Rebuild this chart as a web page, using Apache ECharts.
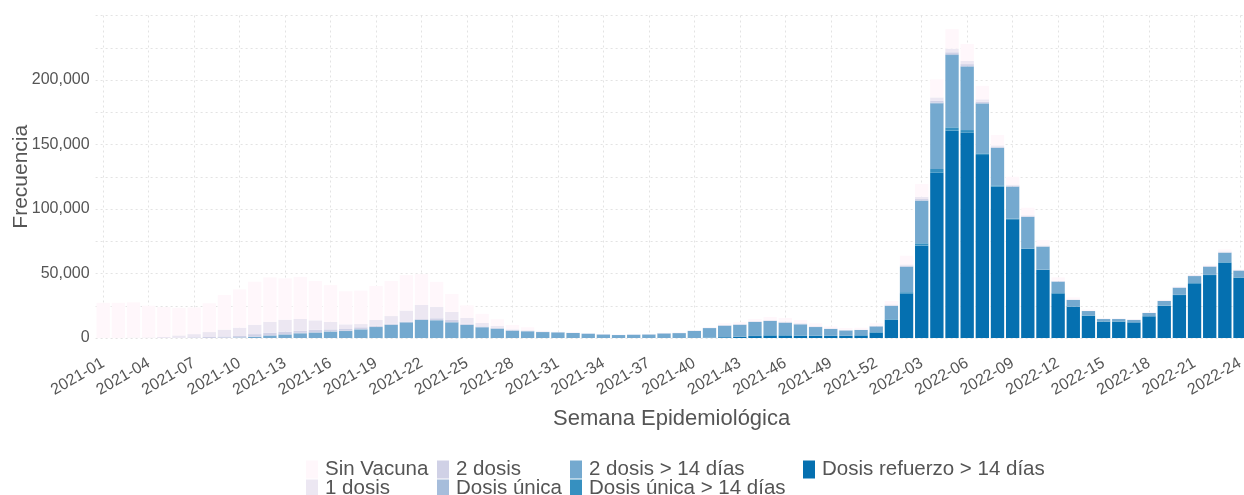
<!DOCTYPE html>
<html>
<head>
<meta charset="utf-8">
<script src="https://cdn.jsdelivr.net/npm/echarts@6/dist/echarts.min.js"></script>
<style>
html,body{margin:0;padding:0;background:#fff;}
#chart{width:1244px;height:495px;}
</style>
</head>
<body>
<div id="chart"></div>
<script>
const weeks = [
 '2021-01','2021-02','2021-03','2021-04','2021-05','2021-06','2021-07','2021-08','2021-09','2021-10',
 '2021-11','2021-12','2021-13','2021-14','2021-15','2021-16','2021-17','2021-18','2021-19','2021-20',
 '2021-21','2021-22','2021-23','2021-24','2021-25','2021-26','2021-27','2021-28','2021-29','2021-30',
 '2021-31','2021-32','2021-33','2021-34','2021-35','2021-36','2021-37','2021-38','2021-39','2021-40',
 '2021-41','2021-42','2021-43','2021-44','2021-45','2021-46','2021-47','2021-48','2021-49','2021-50',
 '2021-51','2021-52','2022-01','2022-02','2022-03','2022-04','2022-05','2022-06','2022-07','2022-08',
 '2022-09','2022-10','2022-11','2022-12','2022-13','2022-14','2022-15','2022-16','2022-17','2022-18',
 '2022-19','2022-20','2022-21','2022-22','2022-23','2022-24'
];

const refuerzo14 = [
 0,0,0,0,0,0,0,0,0,0,
 0,0,0,0,0,0,0,0,0,0,
 0,0,0,0,0,0,0,0,0,0,
 0,0,0,0,0,0,0,0,0,0,
 300,600,1000,1500,2000,2000,1800,1800,1600,1600,
 2000,4300,14000,34600,71600,128100,160700,159100,141800,117500,
 92000,69000,52700,34600,24300,17300,12700,12700,12100,16800,
 25000,33300,42400,48800,58600,46800
];
const unica14 = [
 0,0,0,0,0,0,0,0,0,0,
 0,0,0,0,0,0,0,0,0,0,
 0,0,0,0,0,0,0,0,0,0,
 0,0,0,0,0,0,0,0,0,0,
 0,0,0,100,100,100,100,100,100,100,
 100,200,500,900,1800,2900,2600,2100,1300,800,
 500,400,300,200,150,150,150,150,150,150,
 150,150,150,150,150,150
];
const dos14 = [
 0,0,0,0,0,0,0,0,200,400,
 800,1800,2600,3600,4100,4900,5400,6600,8500,10200,
 12100,14000,13700,12100,10100,8300,7200,5700,5200,4600,
 4400,3900,3400,2800,2300,2600,2800,3600,3800,5500,
 7400,9000,9300,10800,11100,9800,8700,6600,5300,4200,
 4100,4500,10300,19700,32800,50900,56000,49100,38600,29000,
 24800,24400,17800,8900,5050,3450,1850,1850,1750,2450,
 3550,5550,5450,6350,7350,5250
];
const unica = [
 0,0,0,0,0,0,0,0,0,0,
 300,400,400,400,400,300,300,300,200,200,
 200,200,300,300,200,200,200,100,100,100,
 0,0,0,0,0,0,0,0,0,0,
 0,0,0,0,0,0,0,0,0,0,
 0,0,200,300,500,600,700,600,500,300,
 200,200,100,100,50,50,50,50,50,50,
 50,50,100,100,100,100
];
const dos = [
 0,0,0,0,0,300,500,800,1000,1200,
 1900,1900,1900,1700,1900,1500,1300,1400,700,600,
 400,500,1300,1600,700,500,400,300,200,100,
 100,100,50,50,50,50,50,50,50,100,
 100,200,200,300,300,300,300,200,200,100,
 100,200,300,500,1000,1500,1500,1400,1000,600,
 500,400,300,200,150,100,100,100,100,100,
 150,150,200,200,300,200
];
const uno = [
 0,0,300,400,800,1700,2500,3800,5300,6400,
 7300,8500,9300,9000,7300,5800,3600,2500,4600,6000,
 8600,10900,8700,6300,4500,2600,1500,600,500,300,
 100,100,100,100,100,100,100,150,150,150,
 200,400,400,500,500,600,600,500,400,300,
 300,400,700,1000,1800,2500,2800,2500,1800,1100,
 900,700,600,300,200,50,50,50,50,100,
 150,200,300,300,600,200
];
const sinVacuna = [
 27300,27300,27300,24600,23200,21500,20700,22300,26800,29700,
 33300,34400,32000,32700,30500,28500,25600,25900,26300,27200,
 27400,23900,19500,13800,9800,7100,5200,3400,2300,500,
 300,200,150,150,150,150,150,200,300,250,
 300,1200,1400,1500,2300,2700,2500,2200,1400,1400,
 1400,1800,2600,6800,9800,14000,15100,13100,10500,8000,
 6100,5900,4200,2700,1600,900,300,300,300,550,
 550,600,600,900,1600,500
];

// stacking order: bottom -> top
const stackNames = ['Dosis refuerzo > 14 días','Dosis única > 14 días','2 dosis > 14 días','Dosis única','2 dosis','1 dosis','Sin Vacuna'];
const stackData = [refuerzo14, unica14, dos14, unica, dos, uno, sinVacuna];
const stackColors = ['#0570b0','#3690c0','#74a9cf','#a6bddb','#d0d1e6','#ece7f2','#fff7fb'];

const FONT = '"Liberation Sans", Arial, sans-serif';
const TXT = '#555555';

const chart = echarts.init(document.getElementById('chart'), null, {renderer: 'canvas'});

const series = stackNames.map((n, i) => ({
  name: n,
  type: 'bar',
  stack: 'total',
  data: stackData[i],
  barCategoryGap: '12%',
  itemStyle: {color: stackColors[i]},
  emphasis: {disabled: true}
}));

// legend layout: two rows, column-major like the reference
const legendPos = [
  {name: 'Sin Vacuna', left: 306, top: 459},
  {name: '1 dosis', left: 306, top: 478},
  {name: '2 dosis', left: 437, top: 459},
  {name: 'Dosis única', left: 437, top: 478},
  {name: '2 dosis > 14 días', left: 570, top: 459},
  {name: 'Dosis única > 14 días', left: 570, top: 478},
  {name: 'Dosis refuerzo > 14 días', left: 803, top: 459}
];
const legends = legendPos.map(p => ({
  data: [p.name],
  left: p.left,
  top: p.top,
  padding: 0,
  itemWidth: 12,
  itemHeight: 18,
  icon: 'rect',
  selectedMode: false,
  textStyle: {fontFamily: FONT, fontSize: 20.5, color: TXT, lineHeight: 18, padding: [0,0,0,2]}
}));

chart.setOption({
  animation: false,
  backgroundColor: '#ffffff',
  grid: {left: 95.6, top: 15.5, right: -3.6, height: 322.5, containLabel: false, outerBoundsMode: 'none'},
  legend: legends,
  xAxis: {
    type: 'category',
    data: weeks,
    name: 'Semana Epidemiológica',
    nameLocation: 'middle',
    nameGap: 70,
    nameMoveOverlap: false,
    nameTextStyle: {fontFamily: FONT, fontSize: 22, color: TXT},
    axisLine: {show: false},
    axisTick: {show: false},
    axisLabel: {interval: 2, rotate: 30, margin: 24, fontFamily: FONT, fontSize: 16, color: TXT},
    splitLine: {show: true, interval: 2, alignWithLabel: true, lineStyle: {color: '#e3e3e3', type: [2, 3], width: 1}}
  },
  yAxis: {
    type: 'value',
    min: 0,
    max: 250000,
    interval: 25000,
    name: 'Frecuencia',
    nameLocation: 'middle',
    nameGap: 64,
    nameMoveOverlap: false,
    nameTextStyle: {fontFamily: FONT, fontSize: 21, color: TXT},
    axisLine: {show: false},
    axisTick: {show: false},
    axisLabel: {
      margin: 6,
      fontFamily: FONT, fontSize: 16, color: TXT,
      formatter: v => (v % 50000 === 0 && v < 250000) ? v.toLocaleString('en-US') : ''
    },
    splitLine: {show: true, lineStyle: {color: '#e3e3e3', type: [2, 3], width: 1}}
  },
  series: series
});
</script>
</body>
</html>
